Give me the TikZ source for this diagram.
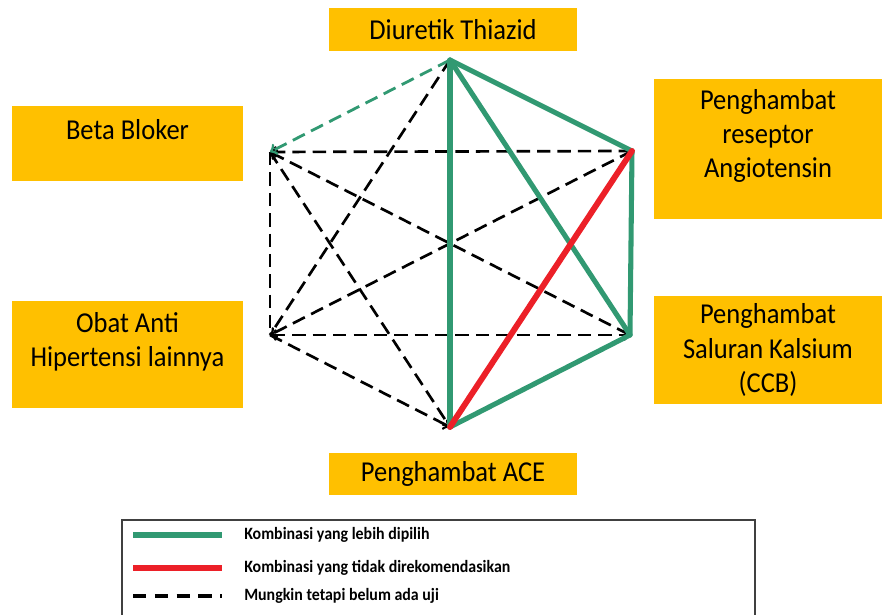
\documentclass[tikz,border=0pt]{standalone}
\usepackage{fontspec}
\setmainfont{Carlito}[FakeStretch=0.92]
\usepackage{tikz}
\usetikzlibrary{positioning, arrows}
\definecolor{boxgold}{RGB}{255,192,0}
\definecolor{prefgreen}{RGB}{49,153,114}
\definecolor{avoidred}{RGB}{236,32,40}
\tikzset{
    drugbox/.style={fill=boxgold, inner sep=0pt, align=center, font=\fontsize{20.5pt}{24.2pt}\selectfont},
    drugtext/.style={inner sep=0pt, align=center, font=\fontsize{20.5pt}{24.2pt}\selectfont},
    prefer/.style={draw=prefgreen, line width=3.6pt, line cap=round, line join=round},
    avoid/.style={draw=avoidred, line width=4.2pt, line cap=round},
    maybe/.style={draw=black, line width=1.9pt, dash pattern=on 9.5pt off 5pt},
    keytext/.style={anchor=west, inner sep=0pt, font=\fontsize{12.3pt}{14pt}\selectfont\bfseries}
}

\begin{document}
\begin{tikzpicture}[x=0.025cm, y=-0.025cm]
    \useasboundingbox (0,0) rectangle (882,615);
    % drug classes
    \node[drugbox, minimum width=6.2cm, minimum height=1.075cm] (thz) at (453,29.5) {Diuretik Thiazid};
    \node[drugbox, minimum width=6.2cm, minimum height=1.05cm] (ace) at (453,474) {Penghambat ACE};
    \node[drugbox, minimum width=5.775cm, minimum height=1.875cm] (bb) at (127.5,143.5) {};
    \node[drugtext] (bbtext) at (127.5,130) {Beta Bloker};
    \node[drugbox, minimum width=5.775cm, minimum height=2.675cm] (oth) at (127.5,354.5) {};
    \node[drugtext] (othtext) at (127.5,341.5) {Obat Anti\\Hipertensi lainnya};
    \node[drugbox, minimum width=5.7cm, minimum height=3.5cm] (arb) at (768,149) {};
    \node[drugtext] (arbtext) at (768,136) {Penghambat\\reseptor\\Angiotensin};
    \node[drugbox, minimum width=5.7cm, minimum height=2.7cm] (ccb) at (768,350) {Penghambat\\Saluran Kalsium\\(CCB)};

    % corners of the hexagon
    \coordinate (vthz) at (450,60);
    \coordinate (varb) at (632,151);
    \coordinate (vccb) at (630,335);
    \coordinate (vace) at (450,427);
    \coordinate (voth) at (270,335);
    \coordinate (vbb) at (270,152);

    \path[maybe]
    (vbb) edge[<-] (varb)
    (vbb) edge (voth)
    (vbb) edge[<-] (vccb)
    (vbb) edge[->] (vace)
    (vthz) edge (voth)
    (varb) edge[->] (voth)
    (voth) edge[<->] (vccb)
    (voth) edge[->] (vace);
    \path[maybe, draw=prefgreen, line width=2pt]
    (vthz) edge[->] (vbb);
    \path[prefer]
    (vthz) edge (varb)
    (vthz) edge (vace)
    (vthz) edge (vccb)
    (varb) edge (vccb)
    (vccb) edge (vace);
    \path[avoid]
    (varb) edge (vace);

    % legend
    \draw[line width=1pt, draw=black!75] (122,616) -- (122,520) -- (755,520) -- (755,616);
    \coordinate (prefa) at (133,535);
    \coordinate (prefb) at (222,535);
    \coordinate (avoida) at (133,568);
    \coordinate (avoidb) at (222,568);
    \coordinate (maybea) at (133,596);
    \coordinate (maybeb) at (222,596);
    \draw[draw=prefgreen, line width=4.8pt] (prefa) -- (prefb);
    \draw[draw=avoidred, line width=4.8pt] (avoida) -- (avoidb);
    \draw[draw=black, line width=2.8pt, dash pattern=on 9.5pt off 6pt] (maybea) -- (maybeb);
    \node[keytext] (prefkey) at (244,535) {Kombinasi yang lebih dipilih};
    \node[keytext] (avoidkey) at (244,568) {Kombinasi yang tidak direkomendasikan};
    \node[keytext] (maybekey) at (244,596) {Mungkin tetapi belum ada uji};
\end{tikzpicture}
\end{document}
